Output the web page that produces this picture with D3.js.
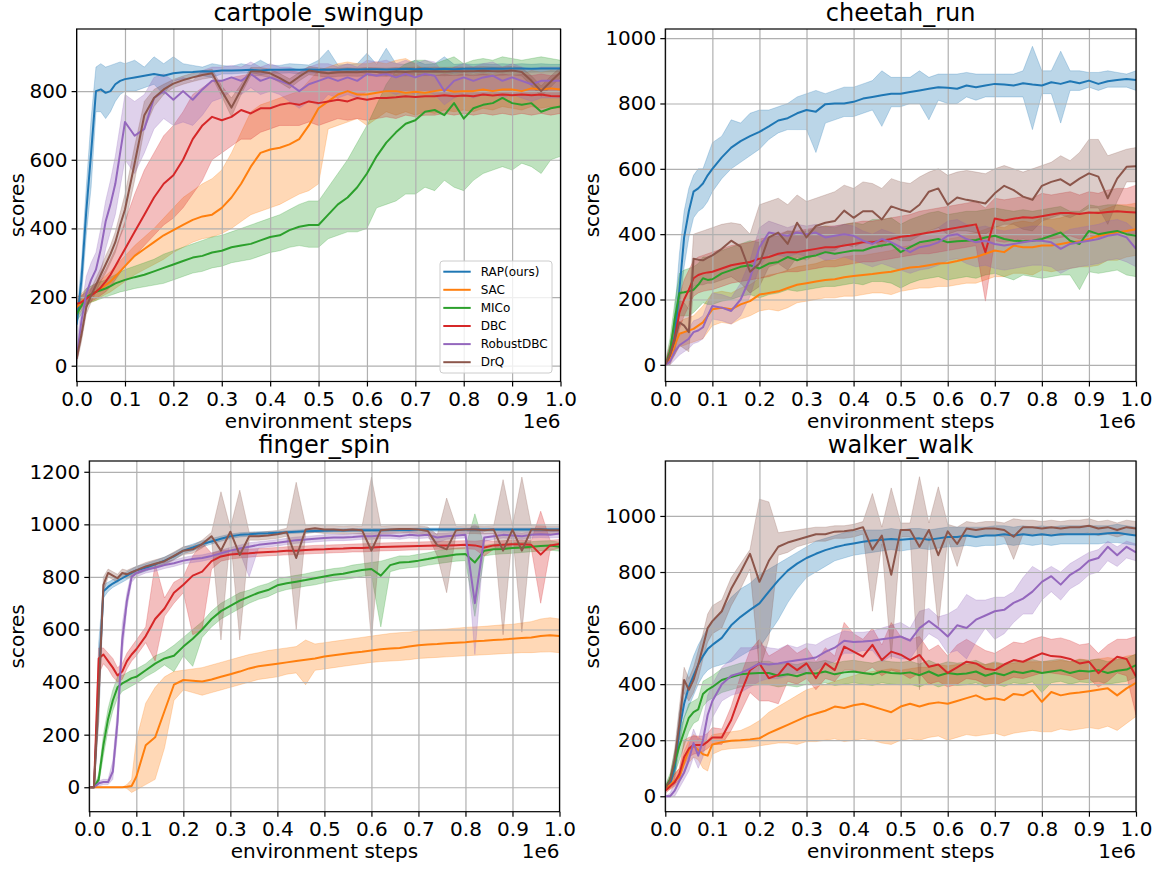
<!DOCTYPE html>
<html>
<head>
<meta charset="utf-8">
<script src="https://cdn.jsdelivr.net/npm/d3@7"></script>
<style>
  body { margin: 0; background: #fff; }
  svg { display: block; font-family: 'DejaVu Sans', sans-serif; }
</style>
</head>
<body>
<svg id="fig" width="1163" height="869"></svg>
<script>
// environment steps, in units of 1e6
var steps = [0, 0.01, 0.02, 0.03, 0.04, 0.05, 0.06, 0.07, 0.08, 0.09, 0.1,
  0.12, 0.14, 0.16, 0.18, 0.2, 0.22, 0.24, 0.26, 0.28, 0.3, 0.32, 0.34, 0.36, 0.38, 0.4,
  0.42, 0.44, 0.46, 0.48, 0.5, 0.52, 0.54, 0.56, 0.58, 0.6, 0.62, 0.64, 0.66, 0.68, 0.7,
  0.72, 0.74, 0.76, 0.78, 0.8, 0.82, 0.84, 0.86, 0.88, 0.9, 0.92, 0.94, 0.96, 0.98, 1];

var methods = ['RAP(ours)', 'SAC', 'MICo', 'DBC', 'RobustDBC', 'DrQ'];
var colors = ['#1f77b4', '#ff7f0e', '#2ca02c', '#d62728', '#9467bd', '#8c564b'];
var xTicks = [0, 0.1, 0.2, 0.3, 0.4, 0.5, 0.6, 0.7, 0.8, 0.9, 1.0];

// ---- cartpole_swingup ----
var cartpoleTicks = [0, 200, 400, 600, 800];
var cartpoleView = [-46, 981];
var cartpoleMean = [
  [120,250,450,620,800,805,795,800,820,830,835, 840,845,850,845,852, 855,856,858,857,860, 860,861,862,860,862, 862,863,862,863,862, 863,862,864,863,864, 864,863,864,865,864, 865,864,865,864,865, 865,865,866,865,866, 866,865,866,866,866],
  [170,185,200,208,215,225,235,245,260,275,290, 320,340,360,380,395, 410,425,435,440,460, 490,530,580,620,630, 635,645,660,700,750, 770,790,800,790,790, 795,800,800,795,798, 795,800,805,798,800, 800,805,800,805,805, 800,808,805,808,805],
  [150,175,200,208,215,220,225,232,240,245,250, 258,265,275,285,295, 305,315,320,330,335, 345,350,355,365,375, 380,395,405,410,410, 440,470,490,520,560, 610,650,680,705,715, 740,745,730,765,720, 750,760,765,780,765, 760,765,740,750,755],
  [180,185,195,205,215,228,245,265,290,315,340, 390,440,490,530,555, 600,660,700,725,715, 725,745,735,750,750, 760,765,760,770,765, 770,775,770,780,775, 780,780,782,785,783, 785,785,788,785,787, 785,790,787,790,788, 790,788,790,786,785],
  [20,130,210,250,280,340,420,470,530,620,710, 670,690,780,800,775, 800,775,805,830,830, 840,830,850,830,840, 830,820,800,820,830, 840,830,840,830,850, 845,850,840,850,840, 850,845,800,830,840, 830,840,845,830,840, 830,820,830,830,830],
  [20,90,170,205,235,265,295,325,360,410,455, 590,730,780,805,822, 832,840,847,852,800, 752,805,857,857,852, 838,822,842,860,856, 852,855,856,855,857, 856,855,857,856,858, 857,858,857,858,858, 858,859,858,858,860, 856,830,800,828,855]
];
var cartpoleLow = [
  [100,200,380,520,740,740,720,740,770,790,800, 800,810,820,790,830, 835,840,845,840,850, 850,852,853,848,852, 852,853,850,853,852, 850,852,854,853,852, 854,845,854,855,852, 855,854,853,852,855, 855,854,856,855,856, 856,855,856,856,856],
  [140,160,175,185,190,200,208,215,225,235,245, 265,280,295,310,330, 345,360,370,375,385, 400,420,440,450,460, 470,485,500,510,530, 690,700,710,720,700, 720,740,730,740,730, 740,735,745,740,745, 740,750,745,755,750, 745,755,750,755,750],
  [130,150,175,185,190,195,200,205,210,215,218, 225,230,235,240,250, 260,270,275,285,290, 300,305,310,320,330, 335,345,350,345,345, 370,380,390,390,400, 460,470,480,500,500, 520,510,540,520,510, 540,560,570,580,570, 590,580,560,600,610],
  [165,170,180,188,195,205,215,230,250,270,290, 320,350,380,410,430, 460,500,540,600,620, 640,660,660,680,690, 700,700,700,710,700, 710,720,715,720,715, 720,725,720,730,725, 730,730,735,730,735, 730,735,730,735,730, 735,730,735,730,735],
  [5,90,170,200,230,270,340,390,440,520,600, 560,620,690,720,700, 710,700,730,770,780, 800,790,810,790,800, 790,770,750,770,760, 790,780,790,780,800, 800,800,790,800,790, 800,790,760,780,790, 780,790,795,780,790, 780,770,780,780,780],
  [5,70,150,185,215,245,270,300,330,375,410, 540,690,755,790,810, 820,828,835,840,785, 725,790,845,845,840, 825,808,830,848,844, 840,843,844,843,845, 844,843,845,844,846, 845,846,845,846,846, 846,847,846,846,848, 844,815,785,812,840]
];
var cartpoleHigh = [
  [140,300,520,720,870,880,870,875,880,885,880, 890,870,900,880,900, 880,875,870,880,875, 872,880,875,890,875, 875,880,878,876,890, 920,876,878,880,910, 878,925,880,878,890, 878,880,900,878,880, 878,880,878,880,878, 880,878,880,878,878],
  [200,210,225,232,240,250,262,275,290,305,320, 350,375,400,430,460, 490,510,530,545,570, 620,680,740,760,770, 780,790,800,830,860, 870,880,885,880,880, 885,880,890,895,880, 860,855,860,850,855, 850,855,850,860,855, 850,860,855,860,858],
  [175,200,225,232,240,245,250,258,265,272,280, 290,300,310,325,335, 345,355,365,375,380, 390,400,410,420,430, 440,455,470,480,480, 520,560,600,650,700, 760,820,860,880,890, 890,880,890,900,880, 890,895,890,900,895, 890,895,900,895,890],
  [200,205,215,225,240,255,280,310,340,380,420, 500,570,620,670,700, 740,790,810,830,830, 840,845,850,855,855, 860,860,855,860,860, 855,860,855,860,850, 850,855,850,855,850, 850,845,850,845,850, 845,850,845,850,845, 850,845,850,845,850],
  [60,170,260,300,330,400,480,540,610,700,790, 770,790,840,850,830, 840,830,860,870,870, 875,870,885,870,880, 870,870,860,870,880, 880,870,880,870,890, 885,890,880,890,880, 890,885,850,870,880, 870,880,885,870,880, 870,860,870,870,870],
  [35,110,190,225,255,285,320,350,390,445,500, 640,770,805,820,834, 844,852,859,864,815, 780,820,869,869,864, 851,836,854,872,868, 864,867,868,867,869, 868,867,869,868,870, 869,870,869,870,870, 870,871,870,870,872, 868,845,815,844,870]
];

// ---- cheetah_run ----
var cheetahTicks = [0, 200, 400, 600, 800, 1000];
var cheetahView = [-51, 1028];
var cheetahMean = [
  [0,20,90,230,390,470,530,540,555,580,600, 635,665,685,700,713, 730,748,755,770,780, 775,798,800,800,805, 815,820,825,830,830, 835,840,845,850,848, 845,855,850,855,860, 858,855,862,858,855, 865,860,868,862,870, 860,868,872,875,872],
  [0,20,60,95,100,105,110,120,130,150,170, 175,170,185,195,215, 220,225,235,245,250, 255,260,262,268,272, 275,278,282,285,292, 298,300,305,310,312, 318,325,330,340,350, 345,365,360,360,365, 365,370,375,378,385, 395,400,405,410,415],
  [0,40,140,220,222,225,230,245,265,260,262, 280,290,300,305,295, 310,315,330,320,330, 335,345,340,345,350, 350,360,365,370,345, 360,375,380,385,375, 378,380,382,390,395, 385,380,378,380,385, 395,405,380,370,410, 400,405,410,400,395],
  [0,30,80,160,200,230,265,275,280,283,285, 295,305,310,315,325, 330,340,345,345,350, 355,360,360,365,370, 375,375,380,385,392, 395,400,405,410,415, 420,425,430,345,448, 442,447,452,450,455, 460,465,465,462,466, 465,468,470,468,466],
  [0,10,40,60,70,80,100,105,115,150,180, 175,165,200,265,360, 405,400,395,405,400, 405,390,395,400,395, 380,370,385,375,360, 345,360,365,375,395, 400,385,375,380,370, 365,370,375,380,380, 375,355,370,375,380, 385,395,400,390,355],
  [0,30,75,130,120,100,325,322,320,328,335, 355,380,362,285,310, 390,405,370,435,390, 425,435,440,472,450, 470,470,445,485,475, 468,490,530,540,490, 512,505,500,494,525, 548,535,515,505,548, 560,568,550,570,586, 576,510,570,606,608]
];
var cheetahLow = [
  [0,0,50,170,300,390,450,470,480,500,530, 570,600,620,640,660, 690,710,720,720,720, 650,740,750,760,760, 770,780,730,790,790, 800,800,750,810,800, 800,820,810,820,820, 820,820,820,720,830, 830,740,840,840,850, 840,850,850,850,840],
  [0,0,30,55,60,65,70,75,80,100,120, 130,125,140,150,165, 170,165,175,190,195, 200,205,205,210,210, 215,220,220,215,225, 230,235,235,240,240, 245,250,250,260,270, 270,280,280,275,290, 285,290,295,300,300, 305,320,320,330,335],
  [0,10,80,150,150,150,160,175,190,185,185, 195,200,210,215,205, 215,220,230,225,230, 235,240,240,245,250, 245,255,255,250,235, 250,260,265,270,260, 265,270,265,275,280, 270,260,275,270,265, 270,275,275,230,285, 280,285,290,275,270],
  [0,10,40,110,150,180,210,220,225,228,230, 240,250,255,260,265, 270,280,285,285,290, 295,300,300,305,310, 315,315,320,325,330, 335,340,340,345,350, 355,360,365,195,380, 375,380,385,380,390, 385,390,395,385,395, 390,400,405,400,400],
  [0,0,15,30,40,50,65,70,80,110,140, 135,125,150,210,300, 340,335,330,340,330, 335,320,325,330,320, 310,300,310,300,290, 280,290,295,305,320, 325,310,300,305,295, 290,295,300,305,305, 300,280,295,300,305, 310,320,325,315,300],
  [0,10,30,60,50,40,240,245,245,250,250, 260,270,250,220,240, 300,310,290,330,320, 340,345,350,370,360, 375,380,360,390,380, 380,395,410,420,400, 410,410,405,400,420, 430,430,415,410,440, 450,460,450,465,480, 480,430,500,560,560]
];
var cheetahHigh = [
  [10,50,160,340,470,540,580,600,600,640,680, 700,750,740,770,780, 780,790,800,820,830, 840,830,840,850,850, 860,870,900,880,880, 880,900,880,890,890, 890,895,890,890,890, 890,890,900,975,900, 900,960,900,900,895, 895,900,895,890,900],
  [10,40,90,130,140,145,150,165,180,200,220, 225,220,235,245,265, 275,280,290,300,305, 310,320,320,330,335, 335,340,345,350,360, 365,370,375,380,385, 390,400,405,415,425, 420,435,440,435,450, 445,450,460,465,465, 470,480,490,490,495],
  [10,80,190,280,290,295,300,310,330,330,335, 350,360,370,380,375, 390,395,410,405,410, 420,425,420,430,435, 430,445,445,450,430, 445,455,465,470,460, 465,470,470,475,480, 475,470,475,470,475, 480,485,470,470,490, 485,490,490,485,480],
  [10,60,130,210,260,290,320,330,335,340,345, 355,365,370,375,385, 390,400,410,410,415, 420,425,425,430,435, 440,440,445,450,455, 460,470,475,480,485, 490,495,500,480,510, 505,510,515,510,525, 520,525,530,520,530, 525,535,540,540,550],
  [10,30,70,90,100,110,135,140,150,190,220, 215,205,250,320,420, 440,430,420,430,425, 430,420,425,430,425, 410,400,415,405,395, 390,400,405,420,440, 445,430,420,425,415, 410,415,420,425,425, 420,400,415,420,425, 430,440,445,435,410],
  [10,60,130,200,190,170,400,405,410,415,420, 430,435,430,400,490, 500,510,490,520,500, 510,520,530,550,540, 560,555,540,570,560, 555,575,590,600,580, 590,595,590,585,600, 610,600,590,600,610, 620,640,625,650,690, 690,640,650,660,665]
];

// ---- finger_spin ----
var fingerTicks = [0, 200, 400, 600, 800, 1000, 1200];
var fingerView = [-93, 1241];
var fingerMean = [
  [0,0,400,745,762,775,785,795,805,815,825, 835,848,862,878,900, 912,925,935,945,955, 960,962,965,966,968, 970,972,974,975,976, 977,977,978,978,978, 978,979,979,979,980, 980,980,980,980,980, 980,980,980,980,980, 980,980,980,980,980],
  [0,0,0,0,0,0,0,0,2,5,40, 160,190,290,390,408, 405,402,410,420,430, 440,452,460,465,470, 475,480,485,490,497, 502,507,512,515,520, 525,528,530,535,540, 543,545,548,550,552, 555,557,560,562,565, 568,570,575,578,575],
  [0,0,30,160,260,330,380,395,405,415,420, 445,470,490,500,535, 565,600,640,670,690, 710,725,740,750,768, 776,782,788,795,802, 808,812,820,826,830, 805,845,855,857,862, 868,875,880,885,887, 855,900,905,906,910, 912,915,918,920,915],
  [0,0,490,505,480,455,425,440,480,505,525, 575,640,680,740,770, 805,820,860,878,885, 888,890,893,895,897, 900,900,902,904,905, 907,908,910,910,912, 914,915,916,917,918, 919,920,920,921,922, 920,912,920,922,924, 924,922,885,920,925],
  [0,0,15,20,20,60,250,560,710,800,815, 828,835,845,852,862, 868,872,880,890,900, 908,915,922,926,930, 935,940,942,945,948, 950,950,952,955,955, 958,958,955,960,958, 960,950,955,958,960, 700,950,955,960,958, 955,960,962,960,965],
  [0,0,350,770,815,805,795,815,810,818,825, 840,850,860,880,900, 905,925,955,900,972, 883,955,955,958,962, 970,872,980,985,980, 980,978,980,978,900, 978,980,982,982,980, 975,920,905,978,980, 980,978,980,900,980, 900,980,980,978,978]
];
var fingerLow = [
  [0,0,250,720,745,760,770,780,790,800,810, 822,835,850,866,888, 900,914,925,936,946, 952,955,958,960,962, 964,966,968,969,970, 971,971,972,972,972, 972,973,973,973,974, 974,974,974,974,974, 974,974,974,974,974, 974,974,974,974,974],
  [0,0,0,0,0,0,0,0,-5,-20,-10, 10,30,150,330,370, 360,350,360,370,380, 390,400,410,415,420, 430,435,390,445,450, 455,460,465,470,475, 478,480,482,485,490, 492,494,496,498,500, 502,504,506,508,510, 512,512,514,515,512],
  [0,0,10,120,220,290,340,365,375,385,395, 420,440,465,440,500, 460,570,610,640,660, 680,700,715,725,742, 752,758,765,770,778, 785,790,795,802,806, 610,820,830,835,838, 845,850,855,860,862, 650,880,885,888,890, 893,896,899,902,898],
  [0,0,430,470,450,420,400,410,450,480,500, 550,480,650,700,740, 580,600,830,860,868, 872,875,878,880,882, 884,885,887,889,890, 892,893,895,895,897, 899,900,901,902,903, 904,905,905,906,907, 905,880,905,907,909, 909,907,700,900,910],
  [0,0,5,10,10,30,200,500,680,780,800, 815,822,832,840,850, 855,860,868,878,888, 895,800,910,914,918, 923,928,930,933,936, 938,938,940,943,943, 946,946,943,948,946, 948,930,943,946,948, 505,935,943,948,946, 943,948,950,948,950],
  [0,0,250,740,800,790,780,800,795,803,810, 825,835,845,865,885, 890,910,940,560,957, 560,940,940,943,947, 955,600,965,970,965, 965,963,965,963,560, 963,965,967,967,965, 960,880,740,963,965, 965,963,965,580,965, 590,965,965,963,963]
];
var fingerHigh = [
  [0,0,550,770,780,790,800,810,820,830,840, 850,862,876,892,913, 925,937,946,955,963, 968,970,972,973,974, 976,978,980,981,982, 983,983,984,984,984, 984,985,985,985,986, 986,986,986,986,986, 986,986,986,986,986, 986,986,986,986,986],
  [0,0,0,0,0,0,0,0,10,30,180, 320,380,420,440,445, 450,455,465,475,485, 495,505,512,520,525, 530,535,560,545,550, 555,560,565,570,575, 580,585,588,590,595, 598,600,602,605,608, 610,612,615,618,620, 625,630,640,645,640],
  [0,0,50,200,300,370,420,425,435,445,450, 470,500,515,540,570, 600,630,670,700,720, 740,750,765,775,792, 800,806,812,820,826, 832,836,845,850,855, 860,870,880,880,886, 892,900,905,910,912, 1040,920,925,924,930, 931,934,937,938,932],
  [0,0,530,530,510,490,455,470,510,535,560, 610,850,720,780,800, 880,930,890,900,903, 905,906,908,910,912, 915,916,918,920,921, 922,923,925,926,927, 929,930,931,932,933, 934,935,936,937,938, 936,940,936,938,940, 940,938,1050,940,942],
  [0,0,25,30,30,100,300,620,740,820,830, 841,848,858,864,874, 881,884,892,902,912, 921,930,934,938,942, 947,952,954,957,960, 962,962,964,967,967, 970,970,967,972,970, 972,965,967,970,972, 1000,965,967,972,970, 967,972,974,972,980],
  [0,0,450,800,830,820,810,830,825,833,840, 855,865,875,895,915, 920,940,970,1124,987, 1130,970,970,973,977, 985,1160,995,1000,995, 995,993,995,993,1180, 993,995,997,997,995, 990,960,1100,993,995, 995,993,995,1170,995, 1180,995,995,993,993]
];

// ---- walker_walk ----
var walkerTicks = [0, 200, 400, 600, 800, 1000];
var walkerView = [-55, 1196];
var walkerMean = [
  [30,45,100,240,330,390,430,470,500,525,540, 565,610,640,665,688, 730,770,805,830,850, 865,878,888,896,902, 908,912,915,918,915, 918,920,915,920,925, 925,930,925,930,930, 935,930,935,930,935, 930,935,935,935,935, 935,938,940,935,930],
  [30,40,55,70,120,165,180,165,150,145,185, 193,198,200,203,207, 225,240,255,270,285, 295,305,320,315,325, 330,320,310,300,320, 330,320,330,335,330, 340,350,360,345,350, 343,365,360,378,337, 372,360,367,370,375, 380,385,360,385,405],
  [30,60,120,180,230,280,300,310,365,380,390, 415,425,435,438,440, 440,430,435,428,440, 438,445,435,442,445, 440,435,445,440,438, 442,432,445,430,440, 435,438,445,430,440, 432,445,440,448,440, 445,450,440,448,445, 450,440,448,452,468],
  [20,35,50,80,140,170,183,183,183,195,210, 210,272,367,450,474, 421,433,474,450,474, 421,474,450,534,516, 498,540,486,516,505, 486,504,462,470,440, 460,480,474,455,450, 470,486,480,495,510, 500,498,490,474,480, 439,470,498,490,427],
  [0,0,20,55,85,130,190,145,200,290,340, 400,430,440,455,474, 470,474,480,485,490, 495,515,530,555,550, 552,555,560,565,570, 555,600,625,600,570, 610,600,630,645,660, 665,690,705,730,765, 785,755,790,810,840, 850,890,860,890,870],
  [30,55,130,260,415,380,415,470,534,600,625, 660,740,800,865,765, 840,890,905,915,925, 935,935,944,945,950, 960,880,930,790,950, 950,890,950,860,945, 900,955,950,955,955, 950,926,960,960,955, 960,955,960,960,965, 955,960,950,960,955]
];
var walkerLow = [
  [20,30,60,180,280,320,360,400,430,450,460, 470,480,500,520,530, 580,630,690,740,780, 800,820,840,850,860, 865,870,875,880,875, 880,885,880,885,890, 890,895,890,895,895, 900,895,900,895,900, 895,900,900,900,900, 900,905,905,900,895],
  [20,25,35,50,80,120,140,130,100,90,150, 165,170,172,175,180, 185,190,190,185,195, 195,200,205,195,200, 205,200,190,185,200, 205,200,210,215,200, 210,220,215,220,225, 215,225,230,235,230, 230,240,235,240,245, 240,250,235,260,285],
  [20,40,80,130,180,230,260,270,320,340,350, 370,380,390,395,398, 398,390,395,390,400, 398,405,395,400,405, 400,395,405,400,398, 400,390,405,390,400, 395,398,405,390,400, 392,405,400,408,370, 405,410,400,408,405, 410,400,405,410,425],
  [10,25,40,60,110,140,150,155,160,170,185, 185,235,300,370,340, 340,330,410,400,420, 380,420,410,450,450, 440,460,430,450,440, 420,440,400,410,390, 400,420,415,400,395, 410,425,420,430,440, 440,435,430,415,420, 390,410,440,430,290],
  [0,0,0,30,60,90,140,100,140,220,280, 340,360,370,390,410, 420,420,430,440,440, 450,470,480,510,510, 520,520,480,500,490, 490,540,580,560,510, 520,490,550,600,560, 580,620,650,650,700, 730,700,740,760,790, 800,840,820,850,840],
  [20,40,90,200,370,340,370,420,490,550,580, 600,680,740,810,450, 560,860,870,890,900, 910,910,920,920,925, 935,660,900,490,925, 925,380,925,605,920, 820,930,925,930,930, 925,845,935,935,930, 935,930,935,935,940, 930,935,925,935,930]
];
var walkerHigh = [
  [40,60,150,300,390,450,500,540,570,600,620, 660,710,740,760,790, 810,830,850,870,890, 910,920,930,940,945, 950,950,950,955,950, 955,955,950,955,960, 960,960,960,960,965, 965,960,965,960,965, 960,965,965,965,965, 965,965,970,965,960],
  [40,55,80,100,160,200,220,210,200,200,220, 225,230,235,250,270, 300,320,340,360,380, 390,400,410,420,430, 440,445,450,455,450, 455,460,460,470,465, 470,470,475,470,475, 470,475,480,480,480, 480,485,480,490,485, 490,495,490,500,505],
  [40,80,160,230,280,330,340,350,410,420,430, 455,465,475,478,482, 482,470,475,470,480, 478,485,475,482,485, 480,475,485,480,478, 482,472,485,470,480, 475,478,485,470,480, 472,485,480,488,480, 485,490,480,488,485, 490,480,488,492,508],
  [30,55,80,100,200,210,215,215,215,225,245, 240,320,430,520,560, 500,520,540,510,530, 480,530,500,620,580, 560,600,540,620,570, 560,570,520,540,500, 540,560,540,520,510, 530,550,545,560,570, 560,565,555,540,545, 510,540,560,560,570],
  [0,10,50,80,120,180,240,200,270,360,400, 460,490,530,530,540, 530,525,540,530,545, 540,560,575,590,585, 585,590,600,610,620, 600,660,670,640,650, 670,720,700,700,710, 710,730,780,820,800, 820,800,830,850,870, 880,910,890,910,900],
  [40,70,170,320,460,420,460,520,580,650,680, 700,780,830,880,1060, 1050,940,945,950,955, 960,960,965,965,970, 980,1080,960,1100,975, 975,1140,975,1104,970, 960,980,975,980,980, 975,990,985,985,980, 985,980,985,985,990, 980,985,975,985,980]
];

var svg = d3.select('#fig');

// where each axes box sits in the figure
var panels = [
  { title: 'cartpole_swingup', mean: cartpoleMean, low: cartpoleLow, high: cartpoleHigh,
    yTicks: cartpoleTicks, view: cartpoleView, left: 76.6, right: 560.5, top: 29, bottom: 381.5, labelX: 18, legend: true },
  { title: 'cheetah_run', mean: cheetahMean, low: cheetahLow, high: cheetahHigh,
    yTicks: cheetahTicks, view: cheetahView, left: 665.3, right: 1136, top: 29, bottom: 381.5, labelX: 593, legend: false },
  { title: 'finger_spin', mean: fingerMean, low: fingerLow, high: fingerHigh,
    yTicks: fingerTicks, view: fingerView, left: 89.3, right: 559.5, top: 461, bottom: 811.7, labelX: 18, legend: false },
  { title: 'walker_walk', mean: walkerMean, low: walkerLow, high: walkerHigh,
    yTicks: walkerTicks, view: walkerView, left: 665.3, right: 1136, top: 461, bottom: 811.7, labelX: 593, legend: false }
];

panels.forEach(function (p, k) {
  drawPanel(p, k);
});

function drawPanel(p, k) {

  var xs = d3.scaleLinear().domain([0, 1]).range([p.left, p.right]);
  var ys = d3.scaleLinear().domain(p.view).range([p.bottom, p.top]);
  var w = p.right - p.left;
  var h = p.bottom - p.top;

  var g = svg.append('g');

  g.append('clipPath').attr('id', 'clip' + k)
    .append('rect')
    .attr('x', p.left).attr('y', p.top)
    .attr('width', w).attr('height', h);

  var series = methods.map(function (name, s) {
    if (p.mean[s].length != steps.length || p.low[s].length != steps.length || p.high[s].length != steps.length) {
      console.error('length mismatch', p.title, name);
    }
    return steps.map(function (x, i) {
      return { x: x, m: p.mean[s][i], lo: p.low[s][i], hi: p.high[s][i] };
    });
  });

  //shaded bands first (below grid and lines, like matplotlib)
  var area = d3.area()
    .x(function (d) { return xs(d.x); })
    .y0(function (d) { return ys(d.lo); })
    .y1(function (d) { return ys(d.hi); });

  var bands = g.append('g').attr('clip-path', 'url(#clip' + k + ')');
  series.forEach(function (rows, s) {
    bands.append('path').datum(rows)
      .attr('d', area)
      .attr('fill', colors[s])
      .attr('fill-opacity', 0.3)
      .attr('stroke', colors[s])
      .attr('stroke-opacity', 0.3)
      .attr('stroke-width', 0.8);
  });

  //grid
  var gx = g.append('g')
    .attr('transform', 'translate(0,' + p.bottom + ')')
    .call(d3.axisBottom(xs).tickValues(xTicks).tickSize(-h).tickFormat(''));
  var gy = g.append('g')
    .attr('transform', 'translate(' + p.left + ',0)')
    .call(d3.axisLeft(ys).tickValues(p.yTicks).tickSize(-w).tickFormat(''));
  [gx, gy].forEach(function (a) {
    a.select('.domain').remove();
    a.selectAll('line').attr('stroke', '#b0b0b0').attr('stroke-width', 1.2);
  });

  //mean curves
  var line = d3.line()
    .x(function (d) { return xs(d.x); })
    .y(function (d) { return ys(d.m); });

  var lines = g.append('g').attr('clip-path', 'url(#clip' + k + ')');
  series.forEach(function (rows, s) {
    lines.append('path').datum(rows)
      .attr('d', line)
      .attr('fill', 'none')
      .attr('stroke', colors[s])
      .attr('stroke-width', 2)
      .attr('stroke-linejoin', 'round');
  });

  //spines
  g.append('rect')
    .attr('x', p.left).attr('y', p.top)
    .attr('width', w).attr('height', h)
    .attr('fill', 'none')
    .attr('stroke', '#000')
    .attr('stroke-width', 1.2);

  //tick labels
  var xAxis = g.append('g')
    .attr('transform', 'translate(0,' + p.bottom + ')')
    .call(d3.axisBottom(xs).tickValues(xTicks).tickFormat(d3.format('.1f')).tickSize(5).tickPadding(5));
  var yAxis = g.append('g')
    .attr('transform', 'translate(' + p.left + ',0)')
    .call(d3.axisLeft(ys).tickValues(p.yTicks).tickFormat(d3.format('d')).tickSize(5).tickPadding(4));
  [xAxis, yAxis].forEach(function (a) {
    a.select('.domain').remove();
    a.attr('font-size', 20).attr('font-family', null);
    a.selectAll('line').attr('stroke', '#000').attr('stroke-width', 1.2);
    a.selectAll('text').attr('fill', '#000');
  });

  g.append('text')
    .attr('x', (p.left + p.right) / 2)
    .attr('y', p.top - 8)
    .attr('text-anchor', 'middle')
    .attr('font-size', 24)
    .text(p.title);

  g.append('text')
    .attr('x', (p.left + p.right) / 2)
    .attr('y', p.bottom + 46)
    .attr('text-anchor', 'middle')
    .attr('font-size', 20)
    .text('environment steps');

  g.append('text')
    .attr('x', p.right)
    .attr('y', p.bottom + 46)
    .attr('text-anchor', 'end')
    .attr('font-size', 20)
    .text('1e6');

  g.append('text')
    .attr('transform', 'translate(' + (p.labelX + 5.5) + ',' + ((p.top + p.bottom) / 2) + ') rotate(-90)')
    .attr('text-anchor', 'middle')
    .attr('font-size', 20)
    .text('scores');

  if (p.legend) {
    addLegend(g, p);
  }
}

function addLegend(g, p) {
  var lw = 112, lh = 112;
  var lx = p.right - 8.5 - lw;
  var ly = p.bottom - 8.5 - lh;

  g.append('rect')
    .attr('x', lx).attr('y', ly)
    .attr('width', lw).attr('height', lh)
    .attr('rx', 3)
    .attr('fill', '#fff')
    .attr('fill-opacity', 0.8)
    .attr('stroke', '#cccccc')
    .attr('stroke-width', 1);

  methods.forEach(function (name, s) {
    var yy = ly + 10.7 + s * 18.1;
    g.append('line')
      .attr('x1', lx + 3.3).attr('x2', lx + 30.7)
      .attr('y1', yy).attr('y2', yy)
      .attr('stroke', colors[s])
      .attr('stroke-width', 2);
    g.append('text')
      .attr('x', lx + 40.7)
      .attr('y', yy)
      .attr('dy', '0.35em')
      .attr('font-size', 12)
      .text(name);
  });
}
</script>
</body>
</html>
